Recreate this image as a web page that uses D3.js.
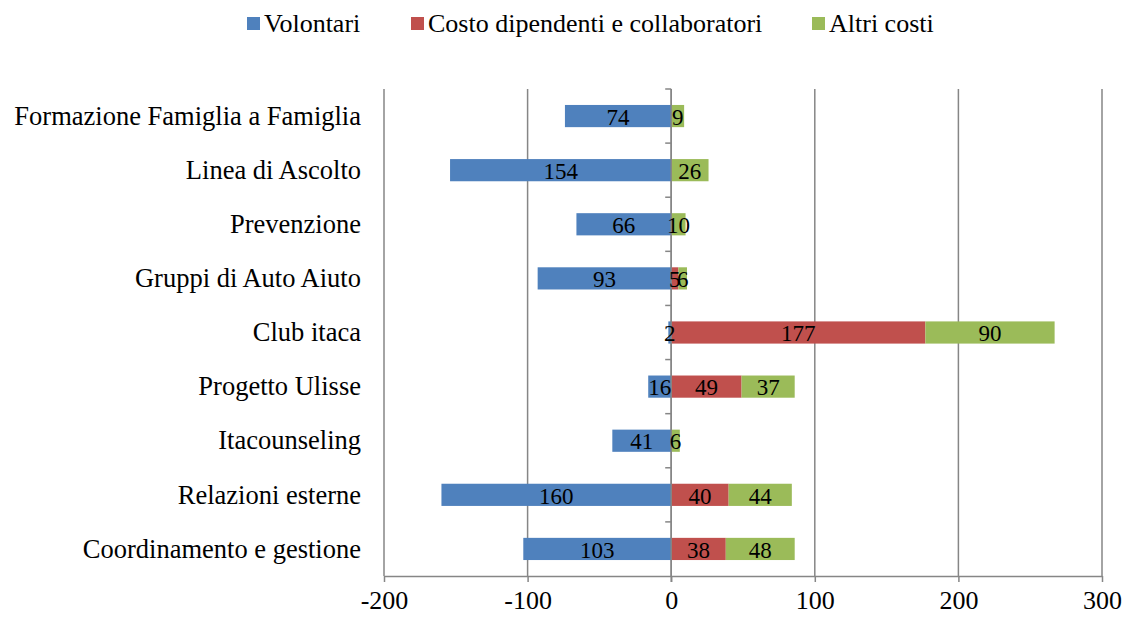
<!DOCTYPE html>
<html>
<head>
<meta charset="utf-8">
<script src="https://cdn.jsdelivr.net/npm/d3@7"></script>
<style>
body{margin:0;background:#fff;}
text{font-family:"Liberation Serif","Times New Roman",serif;fill:#000;}
</style>
</head>
<body>
<script>
/* dati */
var categories = ["Formazione Famiglia a Famiglia","Linea di Ascolto","Prevenzione","Gruppi di Auto Aiuto","Club itaca","Progetto Ulisse","Itacounseling","Relazioni esterne","Coordinamento e gestione"];
var volontari = [74, 154, 66, 93, 2, 16, 41, 160, 103];
var dipendenti = [0, 0, 0, 5, 177, 49, 0, 40, 38];
var altri = [9, 26, 10, 6, 90, 37, 6, 44, 48];
var seriesNames = ["Volontari","Costo dipendenti e collaboratori","Altri costi"];
var colors = ["#4F81BD","#C0504D","#9BBB59"];
var xTicks = [-200,-100,0,100,200,300];

var W = 1124, H = 617;
var pLeft = 384, pRight = 1102, pTop = 89, pBottom = 576;

var svg = d3.select("body").append("svg").attr("width", W).attr("height", H);

var x = d3.scaleLinear().domain([-200,300]).range([pLeft,pRight]);
var y = d3.scaleBand().domain(categories).range([pTop,pBottom]).paddingInner(0.59).paddingOuter(0.295);
var yb = d3.scaleBand().domain(categories).range([pTop,pBottom]);

// griglia
svg.selectAll("line.grid").data(xTicks).enter().append("line")
	.attr("x1", function(d){ return x(d); }).attr("x2", function(d){ return x(d); })
	.attr("y1", pTop).attr("y2", pBottom)
	.attr("stroke", "#868686").attr("stroke-width", 1.5);

// barre
var rows = categories.map(function(c, i){
	return [
		{cat: c, s: 0, x0: -volontari[i], x1: 0, v: volontari[i]},
		{cat: c, s: 1, x0: 0, x1: dipendenti[i], v: dipendenti[i]},
		{cat: c, s: 2, x0: dipendenti[i], x1: dipendenti[i] + altri[i], v: altri[i]}
	];
});
var segs = [].concat.apply([], rows).filter(function(d){ return d.v > 0; });

svg.selectAll("rect.bar").data(segs).enter().append("rect")
	.attr("x", function(d){ return x(d.x0); })
	.attr("width", function(d){ return x(d.x1) - x(d.x0); })
	.attr("y", function(d){ return y(d.cat); })
	.attr("height", y.bandwidth())
	.attr("fill", function(d){ return colors[d.s]; });

// asse categorie sullo zero
svg.append("line").attr("x1", x(0)).attr("x2", x(0)).attr("y1", pTop).attr("y2", pBottom + 6)
	.attr("stroke", "#868686").attr("stroke-width", 1.5);
svg.selectAll("line.ctick").data(categories).enter().append("line")
	.attr("x1", x(0) - 6).attr("x2", x(0))
	.attr("y1", function(d){ return yb(d); }).attr("y2", function(d){ return yb(d); })
	.attr("stroke", "#868686").attr("stroke-width", 1.5);

svg.selectAll("text.lab").data(segs).enter().append("text")
	.attr("x", function(d){ return (x(d.x0) + x(d.x1))/2; })
	.attr("y", function(d){ return y(d.cat) + y.bandwidth()/2; })
	.attr("dy", "0.38em")
	.attr("text-anchor", "middle")
	.style("font-size", "23px")
	.text(function(d){ return d.v; });

// asse x
var xAxis = svg.append("g").attr("transform", "translate(0," + pBottom + ")")
	.call(d3.axisBottom(x).tickValues(xTicks).tickSize(6).tickPadding(9).tickSizeOuter(0)
		.tickFormat(function(d){ return String(d); }));
xAxis.select(".domain").attr("stroke", "#868686").attr("stroke-width", 1.5);
xAxis.selectAll(".tick line").attr("stroke", "#868686").attr("stroke-width", 1.5);
xAxis.selectAll(".tick text").style("font-size", "26px").style("font-family", "Liberation Serif").attr("fill", "#000");

svg.selectAll("text.cat").data(categories).enter().append("text")
	.attr("x", 361)
	.attr("y", function(d){ return yb(d) + yb.bandwidth()/2; })
	.attr("dy", "0.33em")
	.attr("text-anchor", "end")
	.style("font-size", "26.5px")
	.text(function(d){ return d; });

// legenda
var legX = [247, 411, 812];
var leg = svg.selectAll("g.leg").data(seriesNames).enter().append("g")
	.attr("transform", function(d, i){ return "translate(" + legX[i] + ",0)"; });
leg.append("rect").attr("x", 0).attr("y", 17).attr("width", 13).attr("height", 13)
	.attr("fill", function(d, i){ return colors[i]; });
leg.append("text").attr("x", 17).attr("y", 32).style("font-size", "26px").text(function(d){ return d; });
</script>
</body>
</html>
